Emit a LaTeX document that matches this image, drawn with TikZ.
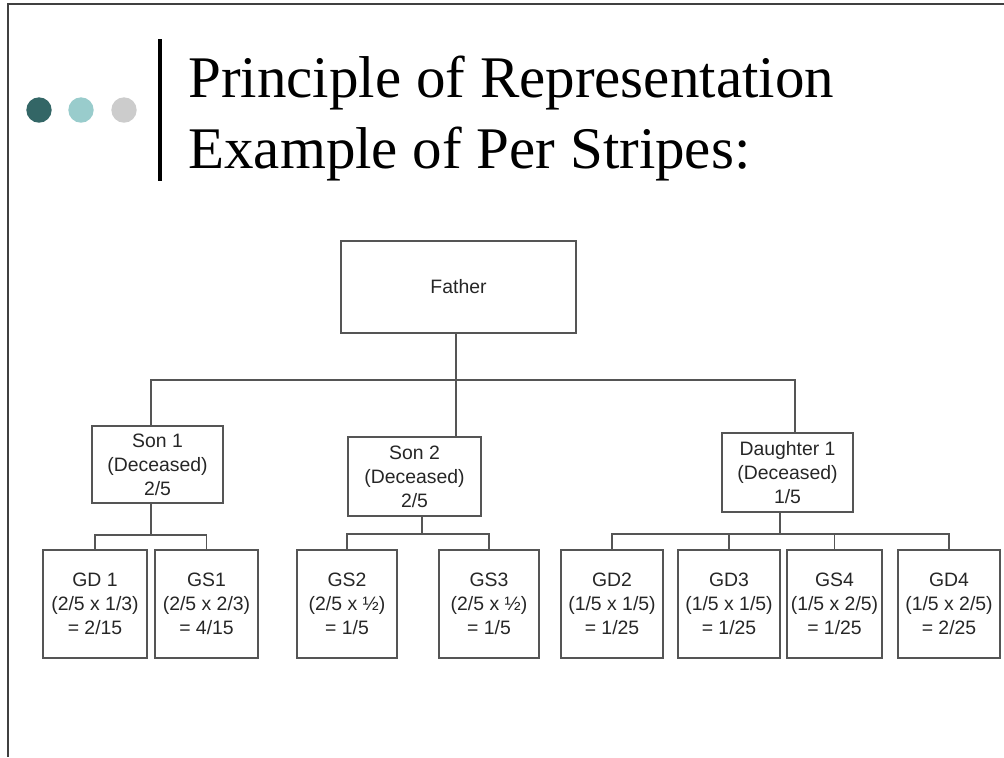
\documentclass[tikz,border=0pt]{standalone}
\usepackage{fontspec}
\setmainfont{Liberation Serif}
\newfontfamily\boxfont{Liberation Sans}
\definecolor{tealdark}{HTML}{336666}
\definecolor{teallight}{HTML}{99CCCC}
\definecolor{dotgray}{HTML}{CCCCCC}
\definecolor{linegray}{HTML}{555555}

\begin{document}
\begin{tikzpicture}[x=0.5pt, y=-0.5pt,
    person/.style={draw=linegray, line width=0.8pt, align=center, inner sep=0pt,
        font=\boxfont\fontsize{9.7}{12}\selectfont, text=black!85},
    kid/.style={person, minimum height=54pt},
    link/.style={draw=linegray, line width=0.7pt}]
    \useasboundingbox (0,0) rectangle (1004,757);

    % slide frame and title
    \draw[black!75, line width=0.6pt] (1004,4) -- (8,4) -- (8,757);
    \fill[tealdark] (39,110) circle (6.35pt);
    \fill[teallight] (81,110) circle (6.35pt);
    \fill[dotgray] (124,110) circle (6.35pt);
    \draw[line width=2.3pt] (160,39) -- (160,181);
    \node[anchor=base west, inner sep=0pt, font=\fontsize{29.5}{36}\selectfont] (title1) at (188,97) {Principle of Representation};
    \node[anchor=base west, inner sep=0pt, font=\fontsize{29.5}{36}\selectfont] (title2) at (188,168) {Example of Per Stripes:};

    % family tree
    \node[person, minimum width=117.5pt, minimum height=46pt] (father) at (458.5,287) {Father};
    \node[person, minimum width=65.5pt, minimum height=38.5pt] (son1) at (157.5,464.5) {Son 1\\(Deceased)\\2/5};
    \node[person, minimum width=66.5pt, minimum height=39.5pt] (son2) at (414.5,476.5) {Son 2\\(Deceased)\\2/5};
    \node[person, minimum width=65.5pt, minimum height=39.5pt] (dau1) at (787.5,472.5) {Daughter 1\\(Deceased)\\1/5};

    \node[kid, minimum width=52pt] (gd1) at (95,604) {GD 1\\(2/5 x 1/3)\\= 2/15};
    \node[kid, minimum width=51.5pt] (gs1) at (206.5,604) {GS1\\(2/5 x 2/3)\\= 4/15};
    \node[kid, minimum width=50pt] (gs2) at (347,604) {GS2\\(2/5 x ½)\\= 1/5};
    \node[kid, minimum width=50pt] (gs3) at (489,604) {GS3\\(2/5 x ½)\\= 1/5};
    \node[kid, minimum width=51pt] (gd2) at (612,604) {GD2\\(1/5 x 1/5)\\= 1/25};
    \node[kid, minimum width=51pt] (gd3) at (729,604) {GD3\\(1/5 x 1/5)\\= 1/25};
    \node[kid, minimum width=47.5pt] (gs4) at (834.5,604) {GS4\\(1/5 x 2/5)\\= 1/25};
    \node[kid, minimum width=51pt] (gd4) at (949,604) {GD4\\(1/5 x 2/5)\\= 2/25};

    \coordinate (bus) at (456,380);
    \coordinate (dtop) at (795,380);
    \coordinate (bus1) at (151,535);
    \coordinate (bus2) at (422,534);
    \coordinate (bus3) at (780,534);

    \draw[link] (father.south -| bus) -- (son2.north -| bus);
    \draw[link] (son1.north -| bus1) -- (bus1 |- bus) -- (dtop) -- (dau1.north -| dtop);

    \draw[link] (son1.south -| bus1) -- (bus1);
    \draw[link] (gd1.north) |- (bus1) -| (gs1.north);

    \draw[link] (son2.south -| bus2) -- (bus2);
    \draw[link] (gs2.north) |- (bus2) -| (gs3.north);

    \draw[link] (dau1.south -| bus3) -- (bus3);
    \draw[link] (gd2.north) |- (bus3) -| (gd4.north);
    \draw[link] (gd3.north) -- (gd3.north |- bus3);
    \draw[link] (gs4.north) -- (gs4.north |- bus3);
\end{tikzpicture}
\end{document}
